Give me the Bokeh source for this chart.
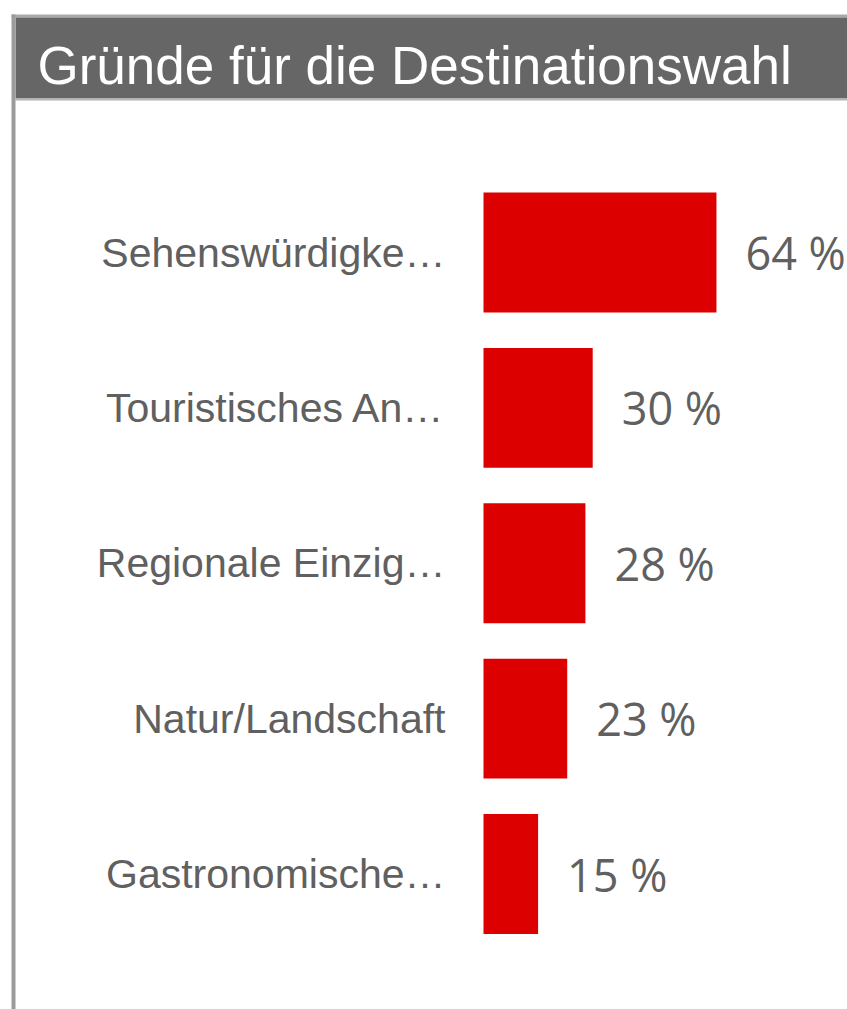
from bokeh.plotting import figure
from bokeh.models import Range1d, BoxAnnotation, Label, ColumnDataSource
from bokeh.core.properties import value
from bokeh.embed import file_html
from bokeh.resources import INLINE

# ---- data ----
title_text = "Gründe für die Destinationswahl"
categories = ["Sehenswürdigke…", "Touristisches An…", "Regionale Einzig…",
              "Natur/Landschaft", "Gastronomische…"]
values = [64, 30, 28, 23, 15]
value_labels = ["64 %", "30 %", "28 %", "23 %", "15 %"]

# ---- layout ----
W, H = 847, 1009
X0_PX = 483          # pixel where value 0 sits
X_SCALE = 3.64       # pixels per percentage point
Y0_PX = 252          # pixel centre of first category
Y_STEP = 155.375     # pixels between categories

x_start = -X0_PX / X_SCALE
x_end = (W - X0_PX) / X_SCALE
y_top = -Y0_PX / Y_STEP
y_bottom = (H - Y0_PX) / Y_STEP


def xpix(px):
    return x_start + px / X_SCALE


def ypix(py):
    return y_top + py / Y_STEP


p = figure(width=W, height=H, output_backend="svg", toolbar_location=None,
           x_range=Range1d(x_start, x_end), y_range=Range1d(y_bottom, y_top),
           x_axis_location=None, y_axis_location=None,
           min_border=0, min_border_left=0, min_border_right=0,
           min_border_top=0, min_border_bottom=0)
p.outline_line_color = None
p.grid.visible = False
p.background_fill_color = "white"
p.border_fill_color = "white"

ypos = list(range(len(categories)))
src = ColumnDataSource(dict(y=ypos, v=values, cat=categories, lab=value_labels))

p.hbar(y="y", left=0, right="v", height=0.772, source=src,
       fill_color="#dd0000", line_color=None)

p.text(x=0, y="y", text="cat", source=src, x_offset=-38,
       text_align="right", text_baseline="middle",
       text_font=value("Liberation Sans"), text_font_size="41px",
       text_color="#606060")

p.text(x="v", y="y", text="lab", source=src, x_offset=29,
       text_align="left", text_baseline="middle",
       text_font=value("Open Sans"), text_font_size="45px",
       text_color="#606060")

# ---- header decoration ----
p.add_layout(BoxAnnotation(left=xpix(11), right=x_end, top=ypix(14), bottom=ypix(17),
                           fill_color="#a9a9a9", fill_alpha=1, line_color=None))
p.add_layout(BoxAnnotation(left=xpix(15), right=x_end, top=ypix(17), bottom=ypix(98),
                           fill_color="#666666", fill_alpha=1, line_color=None))
p.add_layout(BoxAnnotation(left=xpix(15), right=x_end, top=ypix(98), bottom=ypix(100),
                           fill_color="#b4b4b4", fill_alpha=1, line_color=None))
p.add_layout(BoxAnnotation(left=xpix(11), right=xpix(15), top=ypix(14), bottom=y_bottom,
                           fill_color="#9b9b9b", fill_alpha=1, line_color=None))

p.add_layout(Label(x=xpix(37), y=ypix(65), text=title_text,
                   text_align="left", text_baseline="alphabetic",
                   text_font="Liberation Sans", text_font_size="53px",
                   text_color="white"))

open("out.html", "w").write(file_html(p, INLINE))
